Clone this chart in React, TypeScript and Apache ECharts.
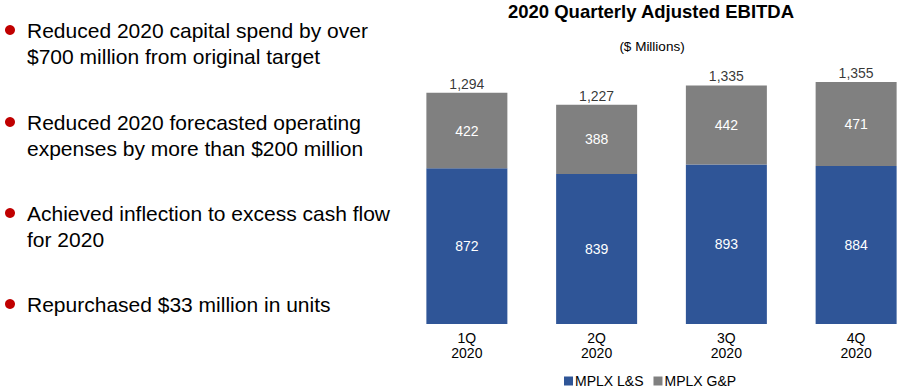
import React, { useEffect, useRef } from "react";
import * as echarts from "echarts";

const categories = ["1Q\n2020", "2Q\n2020", "3Q\n2020", "4Q\n2020"];
const lsValues = [872, 839, 893, 884];
const gpValues = [422, 388, 442, 471];
const totals = [1294, 1227, 1335, 1355];
const seriesNames = ["MPLX L&S", "MPLX G&P"];
const bullets = [
  ["Reduced 2020 capital spend by over", "$700 million from original target"],
  ["Reduced 2020 forecasted operating", "expenses by more than $200 million"],
  ["Achieved inflection to excess cash flow", "for 2020"],
  ["Repurchased $33 million in units"],
];
const bulletTops = [30, 122, 213, 304];

const FONT = "Arial, 'Liberation Sans', Helvetica, sans-serif";

export default function App() {
  const ref = useRef<HTMLDivElement>(null);
  useEffect(() => {
    if (!ref.current) return;
    const chart = echarts.init(ref.current, null, { renderer: "svg" });
    const graphics: any[] = [];
    bullets.forEach((lines, i) => {
      const y = bulletTops[i];
      graphics.push({
        type: "circle",
        shape: { cx: 10, cy: y, r: 5 },
        style: { fill: "#C00000" },
      });
      lines.forEach((line, j) => {
        graphics.push({
          type: "text",
          x: 27,
          y: y + j * 26,
          style: {
            text: line,
            fill: "#000",
            font: `21px ${FONT}`,
            verticalAlign: "middle",
          },
        });
      });
    });
    chart.setOption({
      animation: false,
      textStyle: { fontFamily: FONT },
      title: [
        {
          text: "2020 Quarterly Adjusted EBITDA",
          left: 651,
          top: 2,
          padding: 0,
          textAlign: "center",
          textStyle: { fontSize: 18.5, fontWeight: "bold", color: "#000", fontFamily: FONT },
        },
        {
          text: "($ Millions)",
          left: 652,
          top: 39,
          padding: 0,
          textAlign: "center",
          textStyle: { fontSize: 13.5, fontWeight: "normal", color: "#000", fontFamily: FONT },
        },
      ],
      graphic: graphics,
      legend: {
        left: 564,
        top: 374,
        padding: 0,
        icon: "rect",
        itemWidth: 9,
        itemHeight: 9,
        itemGap: 10,
        textStyle: { fontSize: 14, color: "#000", fontFamily: FONT, padding: [0, 0, 0, -3] },
        data: seriesNames,
      },
      grid: {
        left: 402,
        width: 519,
        top: 56,
        bottom: 66,
        containLabel: false,
        outerBoundsMode: "none",
      },
      xAxis: {
        type: "category",
        data: categories,
        axisLine: { show: false },
        axisTick: { show: false },
        axisLabel: { color: "#000", fontSize: 14, lineHeight: 15, margin: 6, fontFamily: FONT },
      },
      yAxis: { type: "value", min: 0, max: 1500, show: false, splitLine: { show: false } },
      series: [
        {
          name: seriesNames[0],
          type: "bar",
          stack: "a",
          data: lsValues,
          barWidth: 81,
          itemStyle: { color: "#2F5597" },
          label: { show: true, position: "inside", color: "#fff", fontSize: 14, fontFamily: FONT },
        },
        {
          name: seriesNames[1],
          type: "bar",
          stack: "a",
          data: gpValues,
          barWidth: 81,
          itemStyle: { color: "#808080" },
          label: { show: true, position: "inside", color: "#fff", fontSize: 14, fontFamily: FONT },
        },
        {
          name: "total",
          type: "scatter",
          data: totals,
          symbolSize: 0,
          silent: true,
          label: {
            show: true,
            position: "top",
            distance: 2,
            color: "#000",
            fontSize: 14,
            fontFamily: FONT,
            formatter: (p: any) => p.value.toLocaleString("en-US"),
          },
        },
      ],
    });
    return () => chart.dispose();
  }, []);
  return (
    <div
      ref={ref}
      style={{ position: "fixed", left: 0, top: 0, width: 902, height: 390, background: "#fff" }}
    />
  );
}
